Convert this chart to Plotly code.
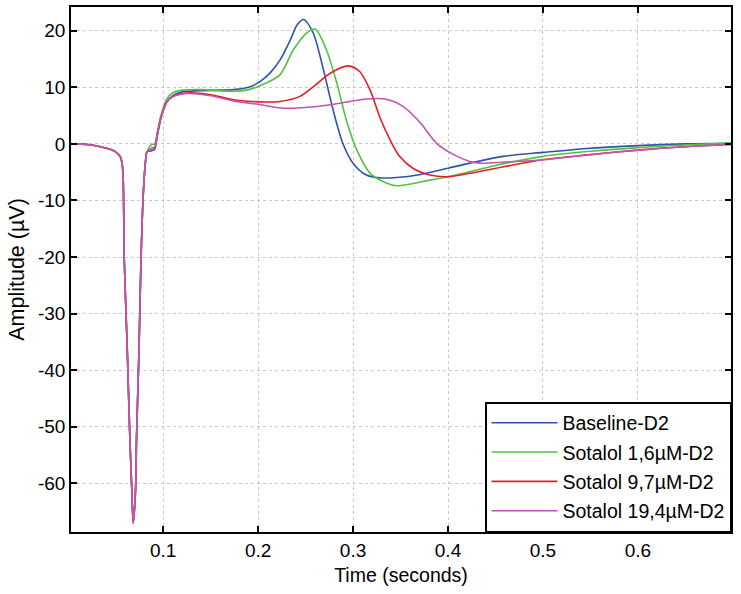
import plotly.graph_objects as go

# ---- data ----
t_qrs = [0.003, 0.02, 0.034, 0.045, 0.05, 0.055, 0.057, 0.058, 0.0585, 0.059, 0.062,
         0.065, 0.067, 0.0685, 0.071, 0.072, 0.0745, 0.0765, 0.078, 0.0795, 0.0815, 0.083]
v_qrs = [0, -0.1, -0.5, -1.0, -1.4, -2.3, -3.7, -6.4, -12, -20, -35,
         -52, -61, -67, -61, -52, -37, -22, -13.4, -7.6, -3.0, -1.4]

t_base = [0.088, 0.091, 0.094, 0.097, 0.100, 0.104, 0.11, 0.12, 0.139, 0.16, 0.174, 0.19, 0.202,
          0.213, 0.223, 0.234, 0.241, 0.248, 0.258, 0.268, 0.279, 0.289, 0.300, 0.314, 0.328,
          0.346, 0.371, 0.40, 0.423, 0.458, 0.5, 0.546, 0.6, 0.65, 0.698]
v_base = [-1.2, -1.0, 1.5, 4.0, 5.8, 7.4, 8.5, 9.2, 9.4, 9.5, 9.6, 10.0, 11.0,
          12.6, 14.8, 18.4, 21.0, 22.0, 19.6, 13.7, 6.0, 0.2, -3.4, -5.5, -6.0,
          -5.95, -5.4, -4.3, -3.4, -2.2, -1.5, -0.8, -0.3, 0.0, 0.1]

t_s16 = [0.088, 0.091, 0.094, 0.097, 0.100, 0.104, 0.11, 0.12, 0.14, 0.174, 0.19, 0.205, 0.223,
         0.237, 0.251, 0.26, 0.272, 0.283, 0.293, 0.304, 0.318, 0.335, 0.346, 0.381, 0.40,
         0.416, 0.45, 0.5, 0.55, 0.6, 0.65, 0.698]
v_s16 = [-0.1, 0.0, 2.2, 4.6, 6.3, 8.0, 9.0, 9.5, 9.6, 9.3, 9.6, 10.5, 12.2,
         16.6, 19.6, 20.3, 16.6, 10.7, 4.2, -1.1, -5.2, -6.9, -7.4, -6.4, -5.8,
         -5.2, -3.8, -2.2, -1.3, -0.65, -0.2, 0.2]

t_s97 = [0.088, 0.091, 0.094, 0.097, 0.100, 0.104, 0.11, 0.125, 0.15, 0.174, 0.209, 0.223, 0.244,
         0.258, 0.276, 0.295, 0.307, 0.318, 0.328, 0.339, 0.349, 0.363, 0.381, 0.40, 0.423,
         0.46, 0.5, 0.55, 0.6, 0.65, 0.698]
v_s97 = [-0.8, -0.6, 1.8, 4.2, 5.9, 7.5, 8.4, 9.0, 8.7, 7.8, 7.4, 7.5, 8.4,
         10.1, 12.5, 13.8, 12.8, 9.5, 4.8, 0.7, -2.2, -4.3, -5.5, -5.8, -5.2,
         -4.0, -2.8, -1.9, -1.1, -0.5, -0.1]

t_s194 = [0.088, 0.091, 0.094, 0.097, 0.100, 0.104, 0.11, 0.125, 0.15, 0.174, 0.2, 0.227, 0.262,
          0.297, 0.314, 0.335, 0.353, 0.371, 0.388, 0.406, 0.423, 0.434, 0.46, 0.5, 0.55,
          0.6, 0.65, 0.698]
v_s194 = [-0.8, -0.6, 1.8, 4.2, 5.8, 7.4, 8.3, 8.9, 8.5, 7.6, 7.0, 6.3, 6.6,
          7.5, 7.95, 7.9, 6.6, 3.7, 0.1, -1.9, -3.1, -3.4, -3.2, -2.8, -1.9,
          -1.1, -0.5, -0.1]

series_names = ["Baseline-D2", "Sotalol 1,6\u00b5M-D2", "Sotalol 9,7\u00b5M-D2", "Sotalol 19,4\u00b5M-D2"]
series_t = [t_base, t_s16, t_s97, t_s194]
series_v = [v_base, v_s16, v_s97, v_s194]
colors = ["#2c55a8", "#52c242", "#e41e26", "#c354b4"]

x_ticks = [0.1, 0.2, 0.3, 0.4, 0.5, 0.6]
x_ticktext = ["0.1", "0.2", "0.3", "0.4", "0.5", "0.6"]
y_ticks = [20, 10, 0, -10, -20, -30, -40, -50, -60]
y_ticktext = ["20", "10", "0", "-10", "-20", "-30", "-40", "-50", "-60"]

fig = go.Figure()
for i, (name, tt, vv, c) in enumerate(zip(series_names, series_t, series_v, colors)):
    fig.add_trace(go.Scatter(
        x=t_qrs + tt, y=v_qrs + vv, mode="lines", name=name, legendgroup=f"g{i}",
        line=dict(color=c, width=1.6, shape="spline", smoothing=0.8),
    ))

font = "Liberation Sans, Arial, sans-serif"
axis_common = dict(
    showline=True, linecolor="black", linewidth=1.5, mirror="ticks",
    ticks="inside", ticklen=6, tickwidth=1.5, tickcolor="black",
    showgrid=True, gridcolor="#c8c8c8", griddash="dot", gridwidth=1,
    zeroline=False, automargin=False,
    tickfont=dict(family=font, size=19, color="black"),
)
fig.update_layout(
    template="none",
    width=741, height=594,
    margin=dict(l=71, r=10, t=7, b=62),
    plot_bgcolor="white", paper_bgcolor="white",
    font=dict(family=font, color="black"),
    xaxis=dict(range=[0.003, 0.698], tickvals=x_ticks, ticktext=x_ticktext,
               title=dict(text="Time (seconds)", font=dict(size=19.5), standoff=9), **axis_common),
    yaxis=dict(range=[-68.6, 24.2], tickvals=y_ticks, ticktext=y_ticktext,
               title=dict(text="Amplitude (\u00b5V)", font=dict(size=21.5), standoff=7), **axis_common),
    legend=dict(x=1, y=0, xanchor="right", yanchor="bottom", bgcolor="white",
                bordercolor="black", borderwidth=1.5, font=dict(size=19.5, family=font),
                itemwidth=66, tracegroupgap=1),
    showlegend=True,
)
fig.write_html("out.html", config={"displayModeBar": False},
               post_script="document.body.style.margin='0px';")
